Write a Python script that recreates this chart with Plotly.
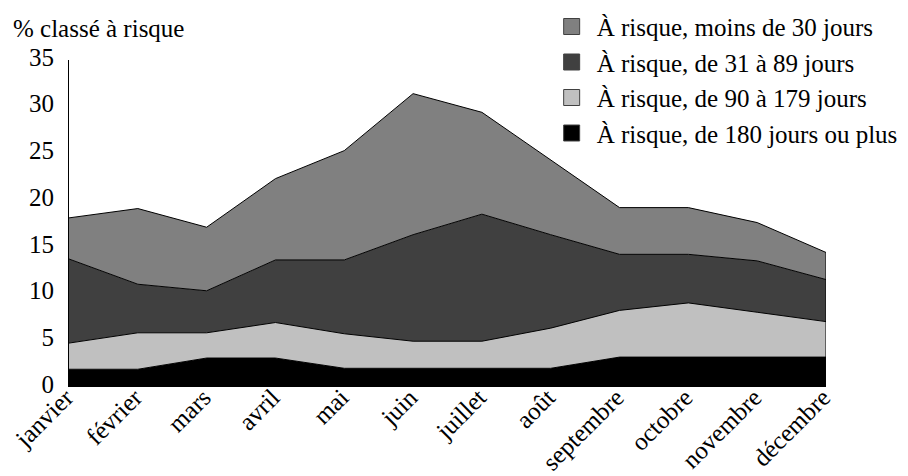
import plotly.graph_objects as go

months = ["janvier", "février", "mars", "avril", "mai", "juin", "juillet",
          "août", "septembre", "octobre", "novembre", "décembre"]

risk_180_plus = [1.9, 1.9, 3.1, 3.1, 2.0, 2.0, 2.0, 2.0, 3.2, 3.2, 3.2, 3.2]
risk_90_179 = [2.8, 3.9, 2.7, 3.8, 3.7, 2.9, 2.9, 4.3, 5.0, 5.8, 4.8, 3.8]
risk_31_89 = [9.0, 5.2, 4.5, 6.7, 7.9, 11.4, 13.6, 10.0, 6.0, 5.2, 5.5, 4.5]
risk_under_30 = [4.4, 8.1, 6.8, 8.7, 11.7, 15.1, 10.9, 8.0, 5.0, 5.0, 4.1, 2.9]

series = [
    ("À risque, de 180 jours ou plus", risk_180_plus, "#000000"),
    ("À risque, de 90 à 179 jours", risk_90_179, "#c0c0c0"),
    ("À risque, de 31 à 89 jours", risk_31_89, "#404040"),
    ("À risque, moins de 30 jours", risk_under_30, "#808080"),
]

FONT = "'Liberation Serif', 'DejaVu Serif', 'Times New Roman', serif"
FS = 25

fig = go.Figure()
for name, vals, col in series:
    fig.add_trace(go.Scatter(
        x=months, y=vals, name=name, mode="lines",
        stackgroup="one", fillcolor=col,
        line=dict(color="#000000", width=1),
        hoverinfo="skip", showlegend=False,
    ))

# legend entries as square swatches
for name, vals, col in series:
    fig.add_trace(go.Scatter(
        x=[None], y=[None], name=name, mode="markers",
        marker=dict(symbol="square", size=20, color=col,
                    line=dict(color="#404040", width=1)),
        hoverinfo="skip",
    ))

# right edge of the stack
totals = [a + b + c + d for a, b, c, d in zip(risk_180_plus, risk_90_179, risk_31_89, risk_under_30)]
fig.add_trace(go.Scatter(
    x=[months[-1], months[-1]], y=[0, totals[-1]], mode="lines",
    line=dict(color="#000000", width=1), showlegend=False, hoverinfo="skip",
))

fig.update_layout(
    width=908, height=476,
    margin=dict(l=61, r=90, t=52, b=97, autoexpand=False),
    paper_bgcolor="white", plot_bgcolor="white",
    font=dict(family=FONT, size=FS, color="black"),
    showlegend=True,
    legend=dict(
        x=0.631, y=1.172, xanchor="left", yanchor="top",
        traceorder="reversed", font=dict(family=FONT, size=FS),
        bgcolor="rgba(0,0,0,0)", tracegroupgap=0, itemwidth=40,
    ),
    xaxis=dict(
        type="category", range=[0, 11], showgrid=False, zeroline=False,
        showline=False, ticks="", tickangle=-45, automargin=False,
        ticklabelshift=-3, ticklabelstandoff=-10,
        tickfont=dict(family=FONT, size=FS),
    ),
    yaxis=dict(
        range=[0, 35], dtick=5, showgrid=False, zeroline=False,
        showline=True, linecolor="black", linewidth=1, ticks="",
        ticklabelstandoff=9, ticklabelshift=-3, automargin=False,
        tickfont=dict(family=FONT, size=FS),
    ),
    annotations=[dict(
        text="% classé à risque", xref="paper", yref="paper",
        x=-0.076, y=1.145, xanchor="left", yanchor="top", showarrow=False,
        font=dict(family=FONT, size=FS),
    )],
)

fig.write_html("out.html")
